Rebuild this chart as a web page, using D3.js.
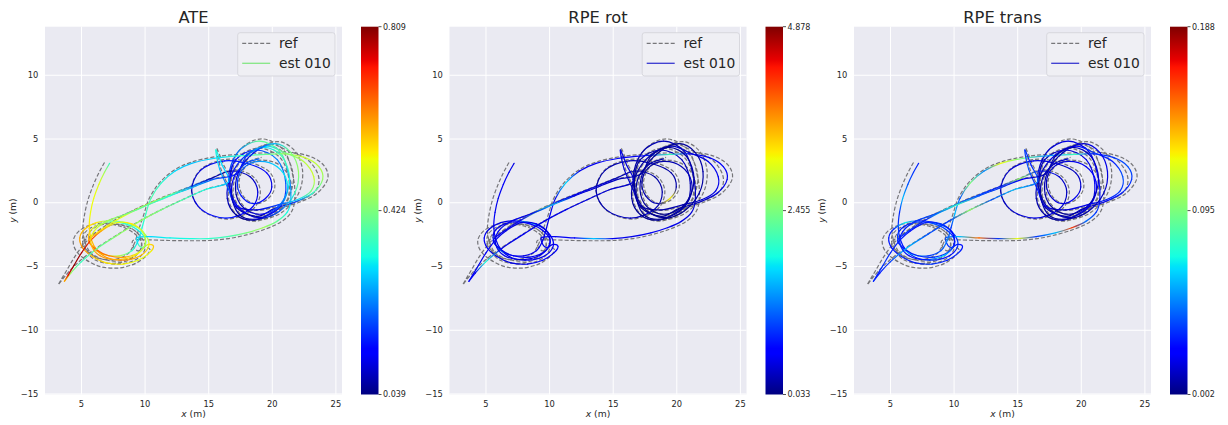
<!DOCTYPE html>
<html><head><meta charset="utf-8">
<script src="https://cdn.jsdelivr.net/npm/d3@7"></script>
<style>body{margin:0;background:#fff;} svg{display:block;font-family:"DejaVu Sans",sans-serif;}</style>
</head><body><svg id="c" width="1228" height="425"></svg>
<script>
// ---- data ----
const estXY = [
[7.25,3.05],[6.85,2.35],[6.40,1.40],[6.00,0.30],[5.75,-0.80],[5.65,-1.90],[5.80,-2.90],[6.25,-3.75],[7.05,-4.35],[8.10,-4.55],
[9.20,-4.40],[10.00,-3.95],[10.35,-3.30],[10.10,-2.60],[9.50,-2.00],[8.50,-1.60],[7.30,-1.45],[6.20,-1.60],[5.30,-2.10],[4.90,-2.80],
[5.15,-3.60],[5.90,-4.25],[7.00,-4.75],[8.30,-4.85],[9.50,-4.55],[10.40,-3.95],[10.70,-3.45],[10.30,-3.30],[9.80,-3.55],[9.45,-3.20],
[9.45,-2.75],[10.50,-2.70],[12.00,-2.80],[13.50,-2.85],[15.00,-2.85],[16.50,-2.70],[18.00,-2.40],[19.30,-2.00],[20.40,-1.50],[21.20,-0.80],
[21.50,0.20],[21.40,1.80],[20.70,3.90],[19.00,4.80],[17.30,3.90],[16.60,1.80],[17.30,-0.30],[19.00,-1.20],[20.70,-0.30],[21.10,1.50],
[20.43,3.34],[18.80,4.10],[17.17,3.34],[16.70,1.50],[17.17,-0.34],[18.80,-1.10],[20.20,-0.50],[21.80,0.00],[23.20,0.70],[24.00,1.80],
[23.70,2.80],[22.60,3.50],[21.00,3.80],[19.50,3.75],[17.50,3.65],[15.50,3.45],[13.70,3.05],[12.40,2.45],[11.30,1.50],[10.50,0.30],
[10.10,-0.90],[9.80,-2.00],[9.50,-3.00],[9.00,-3.80],[8.00,-4.20],[6.80,-4.10],[5.90,-3.50],[5.60,-2.60],[6.10,-1.90],[7.20,-1.55],
[8.50,-1.70],[9.60,-2.30],[10.10,-3.10],[9.60,-3.90],[8.50,-4.30],[7.20,-4.20],[6.20,-3.70],[5.60,-3.00],[6.40,-2.30],[7.80,-1.40],
[9.30,-0.60],[10.80,0.10],[12.30,0.70],[13.70,1.25],[15.20,1.85],[16.80,2.45],[18.30,2.00],[18.90,0.80],[18.30,-0.55],[16.40,-1.25],
[14.50,-0.60],[13.70,0.90],[14.40,2.50],[16.30,3.25],[18.20,3.00],[19.60,2.30],[20.00,1.20],[19.50,0.30],[18.50,-0.10],[17.60,0.50],
[17.30,1.60],[17.80,2.70],[19.00,3.20],[20.40,2.80],[21.20,1.60],[21.00,0.20],[20.00,-0.80],[18.60,-1.40],[17.20,-1.00],[16.50,0.30],
[16.80,2.10],[18.00,3.70],[19.60,4.40],[21.00,3.90],[22.50,3.20],[23.30,2.00],[23.10,0.90],[22.00,0.20],[20.50,-0.20],[18.80,-0.60],
[17.20,-0.30],[16.60,1.00],[15.90,2.60],[15.60,4.10],[16.10,2.90],[16.60,1.60],[14.80,1.00],[13.00,0.20],[11.30,-0.60],[9.60,-1.50],
[8.00,-2.50],[6.30,-3.60],[5.00,-4.70],[4.20,-5.55],[3.70,-6.20],[4.00,-5.70],[4.45,-4.95],[5.05,-3.95],[5.80,-2.95],[6.60,-2.25],
[7.80,-1.60],[9.00,-1.70],[9.90,-2.40],[10.00,-3.40],[9.20,-4.20],[7.80,-4.50],[6.50,-4.20],[5.80,-3.30],[6.00,-2.30],[7.00,-1.50],
[8.60,-0.90],[10.30,-0.20],[12.00,0.50],[13.60,1.10],[15.40,1.80],[17.20,2.20],[18.00,3.60],[19.40,4.30],[20.80,3.60],[21.40,1.80],
[20.80,0.00],[19.40,-0.90],[18.00,-0.60],[17.20,0.60],[17.40,2.40],[18.60,3.90],[20.20,4.60],[21.50,3.90],[22.10,2.40],[21.80,0.70],
[20.60,-0.70],[19.00,-1.30],[17.60,-1.10],[16.90,0.20],[17.00,1.90],[17.90,3.00],[19.00,3.40]
];
const refXY = [
[6.85,3.12],[6.45,2.40],[6.00,1.42],[5.58,0.28],[5.30,-0.86],[5.15,-2.08],[5.32,-3.14],[5.79,-4.02],[6.62,-4.64],[7.71,-4.85],
[8.86,-4.70],[9.69,-4.23],[10.05,-3.55],[9.79,-2.82],[9.17,-2.20],[8.13,-1.78],[6.88,-1.63],[5.74,-1.78],[4.80,-2.30],[4.39,-3.03],
[4.65,-3.86],[5.43,-4.54],[6.57,-5.06],[7.92,-5.16],[9.17,-4.85],[10.11,-4.23],[10.42,-3.71],[10.00,-3.55],[9.48,-3.81],[9.12,-3.45],
[9.12,-2.98],[10.25,-2.95],[11.92,-3.00],[13.48,-3.02],[15.04,-3.00],[16.60,-2.85],[18.16,-2.52],[19.51,-2.10],[20.66,-1.58],[21.49,-0.85],
[21.80,0.19],[21.70,1.85],[20.97,4.04],[19.20,4.97],[17.43,4.04],[16.70,1.85],[17.43,-0.33],[19.20,-1.27],[20.97,-0.33],[21.38,1.54],
[20.69,3.45],[18.99,4.24],[17.30,3.45],[16.81,1.54],[17.30,-0.37],[18.99,-1.16],[20.45,-0.54],[22.11,-0.02],[23.57,0.71],[24.40,1.85],
[24.09,2.89],[22.94,3.62],[21.28,3.93],[19.72,3.88],[17.64,3.78],[15.56,3.57],[13.69,3.15],[12.34,2.53],[11.19,1.54],[10.36,0.29],
[9.94,-0.96],[9.53,-2.15],[9.20,-3.22],[8.65,-4.07],[7.61,-4.49],[6.36,-4.38],[5.43,-3.76],[5.11,-2.82],[5.63,-2.10],[6.78,-1.73],
[8.13,-1.89],[9.27,-2.51],[9.79,-3.34],[9.27,-4.18],[8.13,-4.59],[6.78,-4.49],[5.74,-3.97],[5.11,-3.24],[5.95,-2.51],[7.40,-1.55],
[9.00,-0.68],[10.62,0.06],[12.23,0.71],[13.69,1.28],[15.25,1.90],[16.91,2.53],[18.47,2.06],[19.10,0.81],[18.47,-0.59],[16.50,-1.32],
[14.52,-0.64],[13.69,0.92],[14.42,2.58],[16.39,3.36],[18.37,3.10],[19.82,2.37],[20.24,1.23],[19.72,0.29],[18.68,-0.12],[17.74,0.50],
[17.43,1.64],[17.95,2.79],[19.20,3.31],[20.66,2.89],[21.49,1.64],[21.28,0.19],[20.24,-0.85],[18.78,-1.48],[17.33,-1.06],[16.60,0.29],
[16.91,2.16],[18.16,3.83],[19.82,4.56],[21.28,4.04],[22.84,3.31],[23.67,2.06],[23.46,0.92],[22.32,0.19],[20.76,-0.23],[18.99,-0.64],
[17.33,-0.33],[16.70,1.02],[15.98,2.68],[15.66,4.24],[16.18,3.00],[16.70,1.64],[14.83,1.02],[12.96,0.19],[11.19,-0.64],[9.30,-1.65],
[7.62,-2.70],[5.85,-3.84],[4.50,-4.98],[3.70,-5.85],[3.22,-6.47],[3.45,-6.05],[3.92,-5.27],[4.54,-4.23],[5.32,-3.19],[6.15,-2.46],
[7.40,-1.78],[8.65,-1.89],[9.59,-2.62],[9.69,-3.66],[8.86,-4.49],[7.40,-4.80],[6.05,-4.49],[5.32,-3.55],[5.53,-2.51],[6.57,-1.68],
[8.30,-1.00],[10.15,-0.23],[11.92,0.50],[13.58,1.12],[15.46,1.85],[17.33,2.27],[18.16,3.72],[19.62,4.45],[21.07,3.72],[21.70,1.85],
[21.07,-0.02],[19.62,-0.96],[18.16,-0.64],[17.33,0.60],[17.54,2.48],[18.78,4.04],[20.45,4.76],[21.80,4.04],[22.42,2.48],[22.11,0.71],
[20.86,-0.75],[19.20,-1.37],[17.74,-1.16],[17.02,0.19],[17.12,1.96],[18.06,3.10],[19.20,3.52]
];
const ateErr = [
.36,.46,.52,.53,.53,.55,.58,.60,.62,.64,
.60,.58,.52,.46,.42,.40,.42,.55,.58,.60,
.62,.58,.55,.54,.52,.53,.58,.55,.40,.33,
.30,.30,.32,.33,.35,.37,.42,.46,.40,.33,
.28,.22,.38,.40,.22,.15,.12,.10,.14,.20,
.24,.18,.14,.10,.08,.06,.08,.18,.35,.45,
.48,.50,.45,.40,.35,.30,.28,.30,.35,.38,
.36,.34,.30,.36,.48,.58,.62,.58,.50,.40,
.35,.32,.38,.52,.60,.64,.66,.62,.55,.52,
.50,.46,.40,.22,.08,.06,.08,.10,.12,.15,
.12,.08,.10,.15,.15,.12,.10,.12,.15,.15,
.18,.20,.25,.30,.32,.25,.15,.06,.05,.08,
.12,.18,.30,.42,.48,.50,.42,.30,.18,.10,
.12,.20,.28,.33,.30,.28,.33,.38,.42,.45,
.44,.40,.36,.45,.60,.74,.80,.78,.70,.60,
.52,.55,.50,.48,.55,.60,.62,.58,.52,.46,
.42,.38,.34,.28,.20,.15,.18,.30,.38,.32,
.22,.12,.08,.06,.10,.15,.28,.42,.45,.35,
.20,.08,.06,.08,.12,.18,.22
];
const rpeRot = [
.45,.50,.55,.48,.52,.60,.50,.45,.48,.55,
.50,.45,.60,.52,.48,1.80,.50,.45,.40,.55,
.50,.45,.48,.52,.55,.50,.60,.45,.50,.48,
.52,.50,.55,1.60,.50,.48,.52,.50,.45,.40,
.35,.30,.28,.25,.22,.20,.18,.15,.20,.25,
.30,.25,.20,.15,.12,.10,.15,.30,.45,.50,
.55,.50,.48,2.10,.50,.55,.52,.50,1.70,.48,
.50,.45,.48,.52,.45,.50,1.40,.48,.45,.50,
.55,.50,.48,.45,.50,.52,.48,.50,.45,.52,
2.40,.50,.45,.40,.30,.20,.18,.20,.25,.30,
.25,.20,.22,.25,.20,.18,.20,3.20,.25,.22,
.20,.18,.22,.25,.30,.25,.20,.15,.12,.15,
.18,.22,.30,.40,.45,.50,.45,.35,.25,.20,
.22,.30,.40,.45,.40,.35,.40,.45,.50,.48,
.50,.45,1.90,.50,.55,.50,.48,.52,.50,.45,
.45,.50,.40,.55,.48,.35,.50,.45,.52,.48,
.50,1.50,.45,.40,.30,.20,.15,.12,.18,.20,
.15,.10,.12,.15,.20,.15,.12,.18,.20,.15,
.12,.10,.12,.15,.18,.20,.22
];
const rpeTrans = [
.030,.035,.040,.060,.032,.035,.030,.028,.032,.035,
.030,.028,.035,.032,.045,.030,.028,.070,.032,.030,
.028,.032,.030,.035,.030,.032,.028,.030,.035,.032,
.040,.060,.150,.035,.120,.035,.060,.160,.045,.035,
.030,.025,.020,.018,.015,.012,.010,.012,.015,.020,
.018,.015,.012,.010,.010,.008,.012,.020,.030,.035,
.040,.035,.030,.080,.050,.090,.120,.050,.095,.040,
.060,.035,.050,.040,.035,.070,.040,.035,.030,.035,
.040,.035,.030,.032,.035,.030,.028,.032,.035,.030,
.070,.040,.035,.030,.100,.030,.015,.012,.015,.018,
.015,.012,.015,.018,.015,.012,.015,.020,.018,.015,
.012,.015,.018,.020,.025,.020,.015,.010,.008,.010,
.012,.018,.025,.035,.030,.040,.035,.030,.020,.015,
.018,.030,.040,.035,.030,.045,.060,.040,.100,.035,
.040,.060,.035,.030,.032,.030,.035,.032,.030,.028,
.030,.035,.025,.030,.065,.030,.028,.032,.030,.035,
.040,.080,.040,.035,.020,.010,.008,.010,.012,.015,
.010,.008,.006,.008,.010,.012,.015,.020,.018,.012,
.010,.008,.006,.008,.010,.012,.015
];
const titles = ["ATE", "RPE rot", "RPE trans"];
const cbarMin = [0.039, 0.033, 0.002];
const cbarMax = [0.809, 4.878, 0.188];
const cbarTickLabels = [["0.039","0.424","0.809"],["0.033","2.455","4.878"],["0.002","0.095","0.188"]];
const legendLabels = ["ref", "est 010"];
const legendEstColor = ["#84e684", "#3838d0", "#3838d0"];
const xTicks = [5, 10, 15, 20, 25];
const yTicks = [-15, -10, -5, 0, 5, 10];
const xDomain = [2.17, 25.52];
const yDomain = [-15.08, 13.77];
const xLabel = "x", yLabel = "y", unitLabel = " (m)";

// ---- layout ----
const panelLeft = [45, 449.5, 854];
const plotW = 297, plotTop = 26.7, plotH = 367.8;
const cbarOffset = 316, cbarW = 17.5;
const txt = "#262626";

const jetR = d3.scaleLinear().domain([0,0.35,0.66,0.89,1]).range([0,0,1,1,0.5]).clamp(true);
const jetG = d3.scaleLinear().domain([0,0.125,0.375,0.64,0.91,1]).range([0,0,1,1,0,0]).clamp(true);
const jetB = d3.scaleLinear().domain([0,0.11,0.34,0.65,1]).range([0.5,1,1,0,0]).clamp(true);
const jet = t => d3.rgb(255*jetR(t), 255*jetG(t), 255*jetB(t)).formatHex();
const jetStops = [0,0.11,0.125,0.34,0.35,0.375,0.64,0.65,0.66,0.89,0.91,1];

const svg = d3.select("#c");
const defs = svg.append("defs");
const metrics = [ateErr, rpeRot, rpeTrans];

titles.forEach((title, p) => {
  const L = panelLeft[p];
  const x = d3.scaleLinear().domain(xDomain).range([L, L + plotW]);
  const y = d3.scaleLinear().domain(yDomain).range([plotTop + plotH, plotTop]);
  const g = svg.append("g");

  g.append("rect").attr("x", L).attr("y", plotTop).attr("width", plotW).attr("height", plotH).attr("fill", "#eaeaf2");

  const ax = g.append("g").attr("transform", `translate(0,${plotTop + plotH})`)
    .call(d3.axisBottom(x).tickValues(xTicks).tickSize(-plotH).tickPadding(6.9).tickFormat(d3.format("d")));
  const ay = g.append("g").attr("transform", `translate(${L},0)`)
    .call(d3.axisLeft(y).tickValues(yTicks).tickSize(-plotW).tickPadding(6.7).tickFormat(d3.format("d")));
  [ax, ay].forEach(a => {
    a.select(".domain").remove();
    a.selectAll(".tick line").attr("stroke", "#ffffff").attr("stroke-width", 1);
    a.selectAll(".tick text").attr("fill", txt).attr("font-size", 8.3).attr("font-family", "DejaVu Sans");
  });

  // reference trajectory
  const line = d3.line().x(d => x(d[0])).y(d => y(d[1])).curve(d3.curveCatmullRom.alpha(0));
  g.append("path").attr("d", line(refXY)).attr("fill", "none").attr("stroke", "#000")
    .attr("stroke-opacity", 0.5).attr("stroke-width", 1.2).attr("stroke-dasharray", "4,2");

  // estimate colored by metric
  const vals = metrics[p];
  const cs = d3.scaleLinear().domain([cbarMin[p], cbarMax[p]]).range([0, 1]).clamp(true);
  const pts = estXY.map(d => [x(d[0]), y(d[1])]);
  const n = pts.length;
  for (let i = 0; i < n - 1; i++) {
    const p0 = pts[Math.max(i - 1, 0)], p1 = pts[i], p2 = pts[i + 1], p3 = pts[Math.min(i + 2, n - 1)];
    const c1 = [p1[0] + (p2[0] - p0[0]) / 6, p1[1] + (p2[1] - p0[1]) / 6];
    const c2 = [p2[0] - (p3[0] - p1[0]) / 6, p2[1] - (p3[1] - p1[1]) / 6];
    const path = d3.path();
    path.moveTo(p1[0], p1[1]);
    path.bezierCurveTo(c1[0], c1[1], c2[0], c2[1], p2[0], p2[1]);
    const id = `seg${p}_${i}`;
    const lg = defs.append("linearGradient").attr("id", id).attr("gradientUnits", "userSpaceOnUse")
      .attr("x1", p1[0]).attr("y1", p1[1]).attr("x2", p2[0] + 0.001).attr("y2", p2[1]);
    lg.append("stop").attr("offset", 0).attr("stop-color", jet(cs(vals[i])));
    lg.append("stop").attr("offset", 1).attr("stop-color", jet(cs(vals[i + 1])));
    g.append("path").attr("d", path.toString()).attr("fill", "none").attr("stroke", `url(#${id})`)
      .attr("stroke-width", 1.2).attr("stroke-linecap", "round");
  }

  // title
  g.append("text").attr("x", L + plotW / 2).attr("y", 22.5).attr("text-anchor", "middle")
    .attr("font-size", 16.3).attr("fill", txt).text(title);

  // axis labels
  const xl = g.append("text").attr("x", L + plotW / 2).attr("y", 416.5).attr("text-anchor", "middle")
    .attr("font-size", 9.2).attr("fill", txt);
  xl.append("tspan").attr("font-style", "italic").text(xLabel);
  xl.append("tspan").text(unitLabel);
  const yl = g.append("text").attr("transform", `translate(${L - 29},${plotTop + plotH / 2}) rotate(-90)`)
    .attr("text-anchor", "middle").attr("font-size", 9.2).attr("fill", txt);
  yl.append("tspan").attr("font-style", "italic").text(yLabel);
  yl.append("tspan").text(unitLabel);

  // legend
  const lx = L + plotW - 104.3, ly = plotTop + 6;
  const lgd = g.append("g");
  lgd.append("rect").attr("x", lx).attr("y", ly).attr("width", 97.3).attr("height", 43.3).attr("rx", 2.5)
    .attr("fill", "#efeff4").attr("stroke", "#d2d2d8").attr("stroke-width", 0.8);
  lgd.append("line").attr("x1", lx + 4.5).attr("x2", lx + 32.5).attr("y1", ly + 10.6).attr("y2", ly + 10.6)
    .attr("stroke", "#000").attr("stroke-opacity", 0.5).attr("stroke-width", 1.2).attr("stroke-dasharray", "4,2");
  lgd.append("line").attr("x1", lx + 4.5).attr("x2", lx + 32.5).attr("y1", ly + 30.6).attr("y2", ly + 30.6)
    .attr("stroke", legendEstColor[p]).attr("stroke-width", 1.3);
  legendLabels.forEach((lab, k) => {
    lgd.append("text").attr("x", lx + 41.3).attr("y", ly + 10.6 + 20 * k).attr("dy", "0.35em")
      .attr("font-size", 13.8).attr("fill", txt).text(lab);
  });

  // colorbar
  const cx = L + cbarOffset;
  const gid = `cbar${p}`;
  const cg = defs.append("linearGradient").attr("id", gid).attr("x1", 0).attr("y1", 1).attr("x2", 0).attr("y2", 0);
  jetStops.forEach(s => cg.append("stop").attr("offset", s).attr("stop-color", jet(s)));
  g.append("rect").attr("x", cx).attr("y", plotTop).attr("width", cbarW).attr("height", plotH).attr("fill", `url(#${gid})`);
  const cy = d3.scaleLinear().domain([cbarMin[p], cbarMax[p]]).range([plotTop + plotH, plotTop]);
  const tickVals = [cbarMin[p], (cbarMin[p] + cbarMax[p]) / 2, cbarMax[p]];
  tickVals.forEach((v, k) => {
    g.append("line").attr("x1", cx + cbarW).attr("x2", cx + cbarW + 3).attr("y1", cy(v)).attr("y2", cy(v))
      .attr("stroke", txt).attr("stroke-width", 0.8);
    g.append("text").attr("x", cx + cbarW + 4.5).attr("y", cy(v)).attr("dy", "0.35em")
      .attr("font-size", 8).attr("fill", txt).text(cbarTickLabels[p][k]);
  });
});
</script></body></html>
